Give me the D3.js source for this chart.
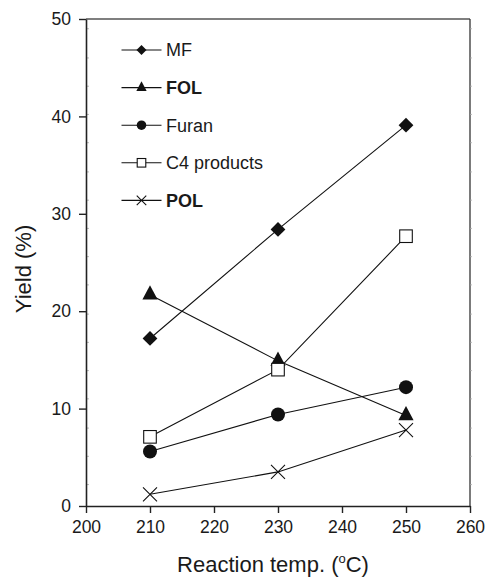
<!DOCTYPE html>
<html>
<head>
<meta charset="utf-8">
<script src="https://cdn.jsdelivr.net/npm/d3@7"></script>
<style>
  html, body { margin: 0; padding: 0; background: #fff; overflow: hidden; }
  svg { display: block; }
  text { font-family: "Liberation Sans", Arial, sans-serif; fill: #1a1a1a; }
</style>
</head>
<body>
<div id="svg-container"></div>
<script>
// data
const temps = [210, 230, 250]
const seriesNames = ['MF', 'FOL', 'Furan', 'C4 products', 'POL']
const mfValues = [17.2, 28.4, 39.1]
const folValues = [21.7, 14.9, 9.3]
const furanValues = [5.6, 9.4, 12.2]
const c4Values = [7.1, 14.0, 27.7]
const polValues = [1.2, 3.5, 7.8]
const xTicks = [200, 210, 220, 230, 240, 250, 260]
const yTicks = [0, 10, 20, 30, 40, 50]
// kleine streepjes langs de y-assen
const minorTicks = [2.2, 5.1, 8.0, 11.0, 13.9, 16.8, 19.7, 22.7, 25.6, 28.5, 31.4, 34.3, 37.3, 40.2, 43.1, 46.0, 49.0]

const width = 486
const height = 579
const margin = { top: 19, right: 16, bottom: 73, left: 86 }
const innerWidth = width - margin.left - margin.right
const innerHeight = height - margin.top - margin.bottom

const series = [
  { name: seriesNames[0], values: mfValues, symbol: 'diamond', bold: false },
  { name: seriesNames[1], values: folValues, symbol: 'triangle', bold: true },
  { name: seriesNames[2], values: furanValues, symbol: 'circle', bold: false },
  { name: seriesNames[3], values: c4Values, symbol: 'square', bold: false },
  { name: seriesNames[4], values: polValues, symbol: 'cross', bold: true }
]

const svg = d3.select('#svg-container')
  .append('svg').attr('width', width).attr('height', height)

const g = svg.append('g')
  .attr('transform', `translate(${margin.left}, ${margin.top})`)

const xScale = d3.scaleLinear().domain([200, 260]).range([0, innerWidth])
const yScale = d3.scaleLinear().domain([0, 50]).range([innerHeight, 0])

// marker tekenen op (0,0), k = schaal
function drawMarker(sel, type, k) {
  if (type === 'diamond') {
    sel.append('path').attr('d', `M0,${-7.4 * k}L${7.4 * k},0L0,${7.4 * k}L${-7.4 * k},0Z`).attr('fill', '#111')
  } else if (type === 'triangle') {
    sel.append('path').attr('d', `M0,${-9.3 * k}L${7.6 * k},${4.9 * k}L${-7.6 * k},${4.9 * k}Z`).attr('fill', '#111')
  } else if (type === 'circle') {
    sel.append('circle').attr('r', 7 * k).attr('fill', '#111')
  } else if (type === 'square') {
    const s = 6.3 * k
    sel.append('rect').attr('x', -s).attr('y', -s).attr('width', 2 * s).attr('height', 2 * s)
      .attr('fill', '#fff').attr('stroke', '#111').attr('stroke-width', 1.1)
  } else if (type === 'cross') {
    const s = 7 * k
    sel.append('path').attr('d', `M${-s},${-s}L${s},${s}M${-s},${s}L${s},${-s}`)
      .attr('stroke', '#111').attr('stroke-width', 1.1).attr('fill', 'none')
  }
}

// frame boven en rechts
g.append('line').attr('x1', 0).attr('x2', innerWidth).attr('y1', 0).attr('y2', 0)
  .attr('stroke', '#555').attr('stroke-width', 1.6)
g.append('line').attr('x1', innerWidth).attr('x2', innerWidth).attr('y1', 0).attr('y2', innerHeight)
  .attr('stroke', '#333').attr('stroke-width', 1.3)

// minor ticks
g.selectAll('.minor-left').data(minorTicks).enter().append('line')
  .attr('x1', 0).attr('x2', 3)
  .attr('y1', d => yScale(d)).attr('y2', d => yScale(d))
  .attr('stroke', '#aaa').attr('stroke-width', 0.8)
g.selectAll('.minor-right').data(minorTicks).enter().append('line')
  .attr('x1', innerWidth).attr('x2', innerWidth + 2)
  .attr('y1', d => yScale(d)).attr('y2', d => yScale(d))
  .attr('stroke', '#aaa').attr('stroke-width', 0.8)

// assen
const xAxisG = g.append('g')
  .attr('transform', `translate(0, ${innerHeight})`)
  .call(d3.axisBottom(xScale).tickValues(xTicks).tickSize(7).tickPadding(8).tickSizeOuter(0))
const yAxisG = g.append('g')
  .call(d3.axisLeft(yScale).tickValues(yTicks).tickSize(7).tickPadding(8).tickSizeOuter(0))

;[xAxisG, yAxisG].forEach(a => {
  a.select('.domain').attr('stroke', '#222').attr('stroke-width', 1.6)
  a.selectAll('.tick line').attr('stroke', '#222').attr('stroke-width', 1.4)
  a.selectAll('.tick text').attr('font-size', 17.5).attr('fill', '#1a1a1a')
    .attr('font-family', '"Liberation Sans", Arial, sans-serif')
})

// lijnen en markers
const line = d3.line().x((d, i) => xScale(temps[i])).y(d => yScale(d))
series.forEach(s => {
  g.append('path').attr('d', line(s.values))
    .attr('fill', 'none').attr('stroke', '#111').attr('stroke-width', 1.1)
})
series.forEach(s => {
  s.values.forEach((v, i) => {
    const m = g.append('g').attr('transform', `translate(${xScale(temps[i])}, ${yScale(v)})`)
    drawMarker(m, s.symbol, 1)
  })
})

// legenda
const legend = g.append('g').attr('transform', 'translate(35.5, 31)')
series.forEach((s, i) => {
  const row = legend.append('g').attr('transform', `translate(0, ${i * 37.6})`)
  row.append('line').attr('x1', 0).attr('x2', 40).attr('y1', 0).attr('y2', 0)
    .attr('stroke', '#111').attr('stroke-width', 1.1)
  drawMarker(row.append('g').attr('transform', 'translate(20, 0)'), s.symbol, 0.68)
  row.append('text').attr('x', 44.5).attr('y', 0).attr('dy', '0.36em')
    .attr('font-size', 18).attr('font-weight', s.bold ? 'bold' : 'normal')
    .text(s.name)
})

// as titels
const xLabel = svg.append('text')
  .attr('x', 273).attr('y', 572)
  .attr('text-anchor', 'middle').attr('font-size', 22)
xLabel.append('tspan').text('Reaction temp. (')
xLabel.append('tspan').attr('font-size', 13).attr('dy', -9).text('o')
xLabel.append('tspan').attr('dy', 9).text('C)')

svg.append('text')
  .attr('transform', `translate(31, 269) rotate(-90)`)
  .attr('text-anchor', 'middle').attr('font-size', 22)
  .text('Yield (%)')
</script>
</body>
</html>
